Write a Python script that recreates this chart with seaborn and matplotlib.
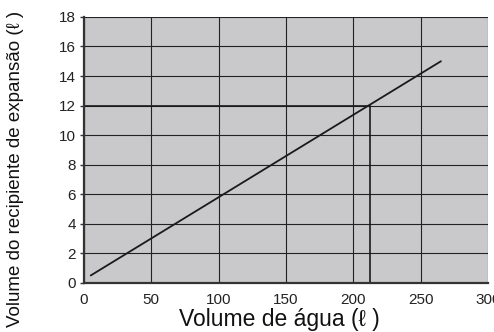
import numpy as np
import pandas as pd
import matplotlib
matplotlib.use('Agg')
import matplotlib.pyplot as plt
import seaborn as sns

# water volume (l) vs expansion vessel volume (l)
agua = [5, 265]
recipiente = [0.5, 15]

# reading marked on the chart
leitura_x = 212
leitura_y = 12

x_ticks = [0, 50, 100, 150, 200, 250, 300]
y_ticks = [0, 2, 4, 6, 8, 10, 12, 14, 16, 18]

sns.set_theme(style='white')
plt.rcParams['font.family'] = ['Liberation Sans', 'DejaVu Sans']

fig = plt.figure(figsize=(4.94, 3.32), dpi=100)
ax = fig.add_axes([0.170, 0.148, 0.818, 0.801])
ax.set_facecolor('#c9c9cb')

df = pd.DataFrame({'agua': agua, 'recipiente': recipiente})
sns.lineplot(data=df, x='agua', y='recipiente', color='#1a1a1a', lw=1.3, ax=ax)

ax.plot([0, leitura_x], [leitura_y, leitura_y], color='#1a1a1a', lw=1.2)
ax.plot([leitura_x, leitura_x], [0, leitura_y], color='#1a1a1a', lw=1.2)

ax.set_xlim(0, 300)
ax.set_ylim(0, 18)
ax.set_xticks(x_ticks)
ax.set_yticks(y_ticks)
ax.grid(True, color='#222222', lw=0.8)
ax.set_axisbelow(True)

for s in ['top', 'right']:
    ax.spines[s].set_visible(False)
for s in ['left', 'bottom']:
    ax.spines[s].set_color('#333333')
    ax.spines[s].set_linewidth(1.6)

ax.tick_params(axis='x', length=0, pad=7, labelsize=11, labelcolor='#222222')
ax.tick_params(axis='y', length=3, width=1, color='#333333', pad=3,
               labelsize=11, labelcolor='#222222', left=True)

ax.set_xlabel('Volume de água (ℓ )', fontsize=16.5, color='#111111')
ax.xaxis.set_label_coords(0.483, -0.095)
ax.set_ylabel('Volume do recipiente de expansão (ℓ )', fontsize=13.5, color='#111111')
ax.yaxis.set_label_coords(-0.149, 0.429)

fig.savefig('out.png', dpi=100)
